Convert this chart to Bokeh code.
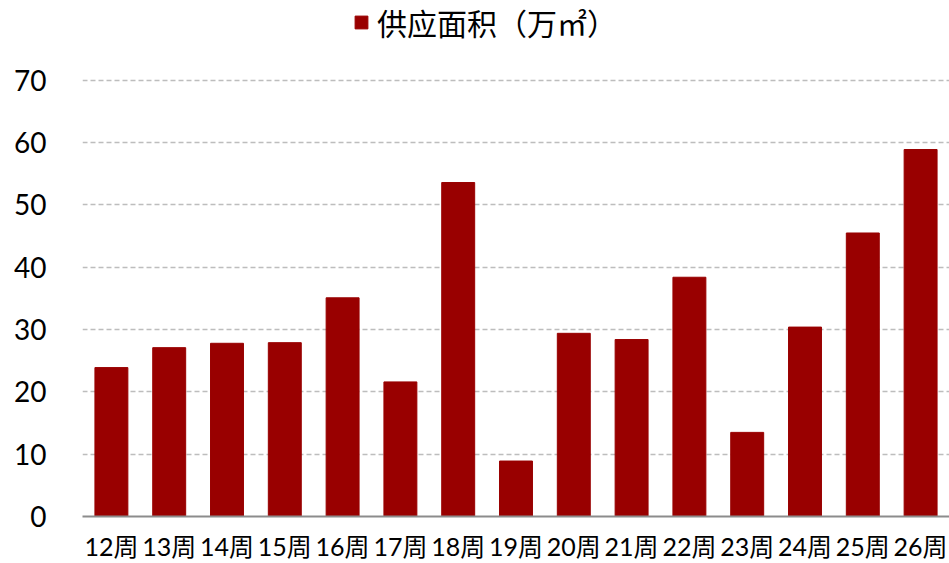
from bokeh.plotting import figure
from bokeh.models import ColumnDataSource, FixedTicker, Legend, LegendItem, Range1d, FactorRange
from bokeh.embed import file_html
from bokeh.resources import INLINE

weeks = ["12周", "13周", "14周", "15周", "16周", "17周", "18周", "19周",
         "20周", "21周", "22周", "23周", "24周", "25周", "26周"]
supply = [23.9, 27.1, 27.8, 27.9, 35.1, 21.6, 53.6, 8.9,
          29.4, 28.4, 38.4, 13.5, 30.4, 45.5, 58.9]
y_ticks = [0, 10, 20, 30, 40, 50, 60, 70]
series_name = "供应面积（万㎡）"

FONT = "Lato, 'Noto Sans CJK SC', sans-serif"
CJK_FONT = "'Noto Sans CJK SC', sans-serif"
BAR = "#990000"

src = ColumnDataSource(dict(week=weeks, supply=supply))

# frame spans the full height above the axis so the legend can sit inside it
p = figure(width=949, height=563, output_backend="svg", toolbar_location=None,
           x_range=FactorRange(*weeks, range_padding=0),
           y_range=Range1d(0, 70 * 517 / 437),
           min_border_left=82, min_border_right=0, min_border_top=0, min_border_bottom=46)
p.outline_line_color = None
p.background_fill_color = "white"

r = p.vbar(x="week", top="supply", width=0.57, source=src,
           fill_color=BAR, line_color=BAR)

p.xgrid.grid_line_color = None
p.ygrid.grid_line_color = "#bdbdbd"
p.ygrid.grid_line_dash = "5 3"
p.ygrid.grid_line_width = 1.3

p.yaxis.ticker = FixedTicker(ticks=y_ticks)
p.yaxis.axis_line_color = None
p.yaxis.major_tick_line_color = None
p.yaxis.minor_tick_line_color = None
p.yaxis.major_tick_out = 0
p.yaxis.major_label_standoff = 36
p.yaxis.major_label_text_font = FONT
p.yaxis.major_label_text_font_size = "28px"
p.yaxis.major_label_text_color = "#000000"

p.xaxis.axis_line_color = "#8c8c8c"
p.xaxis.axis_line_width = 2
p.xaxis.major_tick_line_color = None
p.xaxis.major_tick_out = 0
p.xaxis.major_label_standoff = 14
p.xaxis.major_label_text_font = FONT
p.xaxis.major_label_text_font_size = "25px"
p.xaxis.major_label_text_color = "#000000"

legend = Legend(items=[LegendItem(label=series_name, renderers=[r])],
                location=(271, 472), orientation="horizontal",
                padding=0, margin=0, spacing=0,
                glyph_width=16, glyph_height=16, label_height=16,
                label_standoff=8, border_line_color=None,
                background_fill_alpha=0,
                label_text_font=CJK_FONT, label_text_font_size="30px",
                label_text_color="#000000")
p.add_layout(legend, "center")

open("out.html", "w").write(file_html(p, INLINE))
